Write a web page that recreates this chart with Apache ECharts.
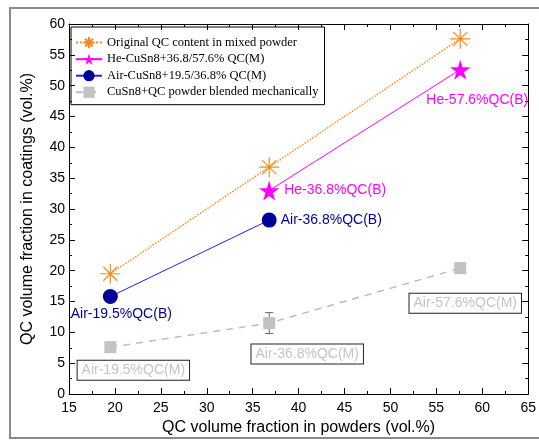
<!DOCTYPE html>
<html><head><meta charset="utf-8">
<script src="https://cdn.jsdelivr.net/npm/echarts@6/dist/echarts.min.js"></script>
<style>html,body{margin:0;padding:0;background:#fff}#c{width:539px;height:441px}</style>
</head><body><div id="c"></div>
<script>
// ---- data ----
const powderX = [19.5, 36.8, 57.6];
const originalY = [19.5, 36.8, 57.6];
const heX = [36.8, 57.6];
const heY = [33.0, 52.6];
const airX = [19.5, 36.8];
const airY = [15.8, 28.2];
const blendY = [7.6, 11.5, 20.4];
const blendErrLow = [7.0, 9.8, 19.7];
const blendErrHigh = [8.3, 13.2, 21.2];
const heLabels = ['He-36.8%QC(B)', 'He-57.6%QC(B)'];
const airLabels = ['Air-19.5%QC(B)', 'Air-36.8%QC(B)'];
const blendLabels = ['Air-19.5%QC(M)', 'Air-36.8%QC(M)', 'Air-57.6%QC(M)'];
const seriesNames = ['Original QC content in mixed powder', 'He-CuSn8+36.8/57.6% QC(M)', 'Air-CuSn8+19.5/36.8% QC(M)', 'CuSn8+QC powder blended mechanically'];

const ORANGE = '#ff8a1c', MAGENTA = '#ff00ff', NAVY = '#000099', BLUE = '#1f1fff', GRAY = '#bdbdbd';
const STAR = 'path://M50,0 L61,35 L98,35 L68,57 L79,91 L50,70 L21,91 L32,57 L2,35 L39,35 Z';
const AST = 'path://M10,0L10,20M0,10L20,10M3,3L17,17M3,17L17,3';
const labelFont = {fontFamily: 'Arial, Liberation Sans', fontSize: 14};

const heOffsets = [{position: 'right', distance: 5}, {position: 'inside', offset: [17, 31]}];
const airOffsets = [{position: 'inside', offset: [11, 18]}, {position: 'right', distance: 4}];
const blendOffsets = [[23, 23], [38, 31], [5, 35]];

const chart = echarts.init(document.getElementById('c'), null, {renderer: 'canvas'});
const axisCommon = {
  type: 'value', interval: 5, splitLine: {show: false},
  axisLine: {show: true, onZero: false, lineStyle: {color: '#000', width: 1}},
  axisTick: {show: true, inside: true, length: 6, lineStyle: {color: '#000'}},
  minorTick: {show: true, splitNumber: 2, length: 3, lineStyle: {color: '#000'}},
  axisLabel: {color: '#000', fontFamily: 'Arial, Liberation Sans', fontSize: 14}
};
chart.setOption({
  animation: false,
  grid: {left: 69, right: 6, top: 24, bottom: 45, containLabel: false},
  graphic: [{type: 'rect', shape: {x: 10, y: 8, width: 540, height: 430}, style: {fill: 'none', stroke: '#8a8a8a', lineWidth: 2}, silent: true, z: -10}],
  legend: {
    orient: 'vertical', left: 71, top: 27, itemWidth: 26, itemHeight: 14, itemGap: 3.5,
    borderColor: '#000', borderWidth: 1, padding: [9, 6, 6, 4],
    textStyle: {fontFamily: 'Liberation Serif, Times New Roman', fontSize: 12.5, color: '#000'},
    data: seriesNames
  },
  xAxis: [
    Object.assign({}, axisCommon, {min: 15, max: 65, position: 'bottom', name: 'QC volume fraction in powders (vol.%)', nameLocation: 'middle', nameGap: 26,
      nameTextStyle: {fontFamily: 'Arial, Liberation Sans', fontSize: 16, color: '#000'}, axisLabel: Object.assign({}, axisCommon.axisLabel, {margin: 7})}),
    Object.assign({}, axisCommon, {min: 15, max: 65, position: 'top', axisLabel: {show: false}})
  ],
  yAxis: [
    Object.assign({}, axisCommon, {min: 0, max: 60, position: 'left', name: 'QC volume fraction in coatings (vol.%)', nameLocation: 'middle', nameGap: 33,
      nameTextStyle: {fontFamily: 'Arial, Liberation Sans', fontSize: 16, color: '#000'}, axisLabel: Object.assign({}, axisCommon.axisLabel, {margin: 4})}),
    Object.assign({}, axisCommon, {min: 0, max: 60, position: 'right', axisLabel: {show: false}})
  ],
  series: [
    {
      name: seriesNames[0], type: 'line', z: 3,
      data: powderX.map((x, i) => [x, originalY[i]]),
      symbol: AST, symbolSize: 20,
      lineStyle: {color: ORANGE, type: 'dotted', width: 1.5},
      itemStyle: {color: 'rgba(0,0,0,0)', borderColor: ORANGE, borderWidth: 1.2}
    },
    {
      name: seriesNames[1], type: 'line', z: 4,
      data: heX.map((x, i) => ({value: [x, heY[i]], label: Object.assign({show: true, formatter: heLabels[i], color: MAGENTA}, labelFont, heOffsets[i])})),
      symbol: STAR, symbolSize: 20,
      lineStyle: {color: MAGENTA, width: 1},
      itemStyle: {color: MAGENTA}
    },
    {
      name: seriesNames[2], type: 'line', z: 4,
      data: airX.map((x, i) => ({value: [x, airY[i]], label: Object.assign({show: true, formatter: airLabels[i], color: NAVY}, labelFont, airOffsets[i])})),
      symbol: 'circle', symbolSize: 15,
      lineStyle: {color: BLUE, width: 1},
      itemStyle: {color: NAVY}
    },
    {
      name: seriesNames[3], type: 'line', z: 3,
      data: powderX.map((x, i) => ({value: [x, blendY[i]], label: Object.assign({show: true, formatter: blendLabels[i], color: '#c4c4c4',
        position: 'inside', offset: blendOffsets[i], borderColor: '#222', borderWidth: 1, padding: [3, 4, 2, 4], backgroundColor: '#fff'}, labelFont)})),
      symbol: 'rect', symbolSize: 12,
      lineStyle: {color: GRAY, type: [7, 6], width: 1.5},
      itemStyle: {color: '#c2c2c2'}
    },
    {
      type: 'custom', z: 2,
      data: powderX.map((x, i) => [x, blendErrLow[i], blendErrHigh[i]]),
      renderItem: function (params, api) {
        const x = api.value(0);
        const p1 = api.coord([x, api.value(1)]);
        const p2 = api.coord([x, api.value(2)]);
        const w = 4;
        const st = {stroke: '#666', lineWidth: 1};
        return {type: 'group', children: [
          {type: 'line', shape: {x1: p1[0], y1: p1[1], x2: p2[0], y2: p2[1]}, style: st},
          {type: 'line', shape: {x1: p1[0] - w, y1: p1[1], x2: p1[0] + w, y2: p1[1]}, style: st},
          {type: 'line', shape: {x1: p2[0] - w, y1: p2[1], x2: p2[0] + w, y2: p2[1]}, style: st}
        ]};
      }
    }
  ]
});
</script></body></html>
